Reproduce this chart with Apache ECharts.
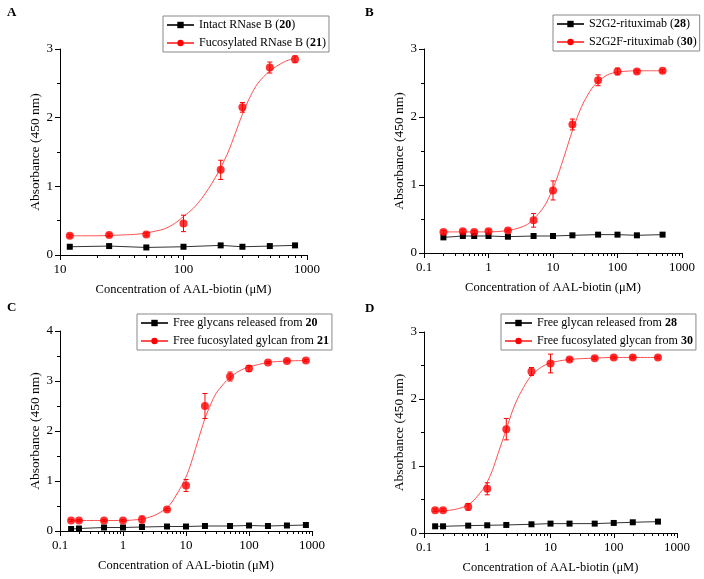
<!DOCTYPE html>
<html>
<head>
<meta charset="utf-8">
<script src="https://cdn.jsdelivr.net/npm/echarts@6/dist/echarts.min.js"></script>
<style>
html,body{margin:0;padding:0;background:#fff;}
#chart{width:704px;height:579px;}
</style>
</head>
<body>
<div id="chart"></div>
<script>
// ---------- Panel A ----------
const xA = [12, 25, 50, 100, 200, 300, 500, 800];
const blackA = [0.12, 0.13, 0.11, 0.12, 0.14, 0.12, 0.13, 0.14];
const redA = [0.28, 0.29, 0.30, 0.46, 1.24, 2.15, 2.73, 2.85];
const errA = [0.02, 0.02, 0.02, 0.12, 0.14, 0.07, 0.08, 0.05];
const fitXA = [12, 20, 30, 40, 50, 60, 70, 85, 100, 120, 140, 160, 180, 200, 230, 260, 300, 350, 400, 500, 650, 800];
const fitYA = [0.28, 0.28, 0.29, 0.30, 0.32, 0.35, 0.38, 0.46, 0.56, 0.68, 0.82, 0.97, 1.12, 1.27, 1.5, 1.75, 2.05, 2.32, 2.5, 2.68, 2.81, 2.87];
const namesA = ['Intact RNase B (20)', 'Fucosylated RNase B (21)'];

// ---------- Panel B ----------
const xB = [0.2, 0.4, 0.6, 1, 2, 5, 10, 20, 50, 100, 200, 500];
const blackB = [0.23, 0.25, 0.25, 0.25, 0.24, 0.25, 0.25, 0.26, 0.27, 0.27, 0.26, 0.27];
const redB = [0.31, 0.32, 0.31, 0.32, 0.33, 0.48, 0.92, 1.89, 2.54, 2.67, 2.67, 2.68];
const errB = [0.02, 0.02, 0.02, 0.02, 0.02, 0.1, 0.14, 0.08, 0.08, 0.05, 0.02, 0.02];
const fitXB = [0.2, 0.5, 1, 2, 3, 4, 5, 6, 7, 8, 10, 12, 15, 20, 25, 30, 40, 50, 70, 100, 200, 500];
const fitYB = [0.31, 0.31, 0.31, 0.33, 0.37, 0.42, 0.5, 0.58, 0.66, 0.75, 0.95, 1.15, 1.43, 1.8, 2.05, 2.22, 2.42, 2.52, 2.62, 2.66, 2.68, 2.68];
const namesB = ['S2G2-rituximab (28)', 'S2G2F-rituximab (30)'];

// ---------- Panel C ----------
const xC = [0.15, 0.2, 0.5, 1, 2, 5, 10, 20, 50, 100, 200, 400, 800];
const blackC = [0.04, 0.05, 0.07, 0.07, 0.08, 0.09, 0.09, 0.1, 0.1, 0.11, 0.1, 0.11, 0.12];
const redC = [0.21, 0.21, 0.21, 0.21, 0.23, 0.43, 0.91, 2.5, 3.09, 3.25, 3.37, 3.4, 3.41];
const errC = [0.02, 0.02, 0.02, 0.02, 0.07, 0.02, 0.12, 0.25, 0.09, 0.06, 0.02, 0.02, 0.02];
const fitXC = [0.15, 0.5, 1, 2, 3, 4, 5, 6, 7, 8, 10, 12, 15, 20, 25, 30, 40, 50, 70, 100, 200, 400, 800];
const fitYC = [0.21, 0.21, 0.21, 0.24, 0.3, 0.38, 0.47, 0.58, 0.72, 0.84, 1.08, 1.35, 1.75, 2.25, 2.55, 2.75, 2.95, 3.07, 3.2, 3.28, 3.37, 3.4, 3.41];
const namesC = ['Free glycans released from 20', 'Free fucosylated gylcan from 21'];

// ---------- Panel D ----------
const xD = [0.15, 0.2, 0.5, 1, 2, 5, 10, 20, 50, 100, 200, 500];
const blackD = [0.1, 0.1, 0.11, 0.115, 0.12, 0.13, 0.14, 0.14, 0.14, 0.15, 0.16, 0.17];
const redD = [0.34, 0.34, 0.39, 0.66, 1.55, 2.41, 2.53, 2.59, 2.61, 2.62, 2.62, 2.62];
const errD = [0.02, 0.02, 0.05, 0.09, 0.16, 0.06, 0.14, 0.02, 0.02, 0.02, 0.02, 0.02];
const fitXD = [0.15, 0.2, 0.3, 0.4, 0.5, 0.6, 0.7, 0.85, 1, 1.2, 1.5, 2, 2.5, 3, 4, 5, 7, 10, 20, 50, 100, 500];
const fitYD = [0.33, 0.33, 0.35, 0.38, 0.42, 0.48, 0.55, 0.65, 0.76, 0.93, 1.2, 1.55, 1.82, 2.0, 2.22, 2.35, 2.47, 2.54, 2.59, 2.61, 2.62, 2.62];
const namesD = ['Free glycan released from 28', 'Free fucosylated glycan from 30'];

const panelLetters = ['A', 'B', 'C', 'D'];
const xMins = [10, 0.1, 0.1, 0.1];
const xMaxs = [1000, 1000, 1000, 1000];
const yMaxs = [3, 3, 4, 3];
const xTitle = 'Concentration of AAL-biotin (\u03bcM)';
const yTitle = 'Absorbance (450 nm)';

const FONT = "'Liberation Serif', 'Times New Roman', serif";

const panels = [
  {x: xA, k: blackA, r: redA, e: errA, fx: fitXA, fy: fitYA, names: namesA},
  {x: xB, k: blackB, r: redB, e: errB, fx: fitXB, fy: fitYB, names: namesB},
  {x: xC, k: blackC, r: redC, e: errC, fx: fitXC, fy: fitYC, names: namesC},
  {x: xD, k: blackD, r: redD, e: errD, fx: fitXD, fy: fitYD, names: namesD}
];

// layout (pixels)
const gridLayout = [
  {left: 60, top: 49, width: 247, height: 206},
  {left: 424, top: 49, width: 258, height: 204},
  {left: 60, top: 331, width: 252, height: 200},
  {left: 424, top: 332, width: 253, height: 201}
];
const legendLayout = [
  {left: 163, top: 16},
  {left: 553, top: 15},
  {left: 137, top: 314},
  {left: 501, top: 314}
];
const letterLayout = [
  {left: 7, top: 6},
  {left: 365, top: 6},
  {left: 7, top: 301},
  {left: 365, top: 302}
];

const grids = [], xAxes = [], yAxes = [], series = [], legends = [], titles = [];

function zip(a, b) { return a.map((v, i) => [v, b[i]]); }

panels.forEach((p, i) => {
  grids.push(Object.assign({containLabel: false}, gridLayout[i]));
  xAxes.push({
    type: 'log', logBase: 10, gridIndex: i, min: xMins[i], max: xMaxs[i],
    name: xTitle, nameLocation: 'middle', nameGap: 28,
    nameTextStyle: {fontFamily: FONT, fontSize: 12.5, color: '#000'},
    axisLine: {show: true, lineStyle: {color: '#000', width: 1}},
    axisTick: {show: true, inside: false, length: 5, lineStyle: {color: '#000'}},
    minorTick: {show: true, splitNumber: 9, length: 3, lineStyle: {color: '#000'}},
    splitLine: {show: false}, minorSplitLine: {show: false},
    axisLabel: {fontFamily: FONT, fontSize: 13, color: '#000', margin: 8,
      formatter: v => String(v)}
  });
  yAxes.push({
    type: 'value', gridIndex: i, min: 0, max: yMaxs[i], interval: 1,
    name: yTitle, nameLocation: 'middle', nameGap: 17,
    nameTextStyle: {fontFamily: FONT, fontSize: 13.5, color: '#000'},
    axisLine: {show: true, lineStyle: {color: '#000', width: 1}},
    axisTick: {show: true, inside: false, length: 5, lineStyle: {color: '#000'}},
    minorTick: {show: true, splitNumber: 2, length: 3, lineStyle: {color: '#000'}},
    splitLine: {show: false},
    axisLabel: {fontFamily: FONT, fontSize: 13, color: '#000', margin: 7}
  });
  // black series (connected)
  series.push({
    type: 'line', name: p.names[0], xAxisIndex: i, yAxisIndex: i,
    data: zip(p.x, p.k), symbol: 'rect', symbolSize: 6, showSymbol: true,
    itemStyle: {color: '#000'}, lineStyle: {color: '#333', width: 1},
    z: 3, animation: false
  });
  // red fitted curve
  series.push({
    type: 'line', name: p.names[1], xAxisIndex: i, yAxisIndex: i,
    data: zip(p.fx, p.fy), smooth: 0.3,
    symbol: 'circle', symbolSize: 7, showSymbol: false,
    itemStyle: {color: '#ff0000'}, lineStyle: {color: '#ff5050', width: 1},
    z: 2, animation: false, silent: true
  });
  // red error bars
  series.push({
    type: 'custom', name: 'err' + i, xAxisIndex: i, yAxisIndex: i,
    data: p.x.map((v, j) => [v, p.r[j], p.e[j]]),
    z: 3, animation: false, silent: true,
    renderItem: function (params, api) {
      const xv = api.value(0), yv = api.value(1), ev = api.value(2);
      const top = api.coord([xv, yv + ev]);
      const bot = api.coord([xv, yv - ev]);
      const st = {stroke: '#ff0000', lineWidth: 1};
      const cw = 2.5;
      return {type: 'group', children: [
        {type: 'line', shape: {x1: top[0], y1: top[1], x2: bot[0], y2: bot[1]}, style: st},
        {type: 'line', shape: {x1: top[0] - cw, y1: top[1], x2: top[0] + cw, y2: top[1]}, style: st},
        {type: 'line', shape: {x1: bot[0] - cw, y1: bot[1], x2: bot[0] + cw, y2: bot[1]}, style: st}
      ]};
    }
  });
  // red points
  series.push({
    type: 'scatter', name: p.names[1], xAxisIndex: i, yAxisIndex: i,
    data: zip(p.x, p.r), symbol: 'circle', symbolSize: 8,
    itemStyle: {color: '#ff0000'}, z: 4, animation: false
  });
  legends.push(Object.assign({
    orient: 'vertical', data: p.names,
    borderColor: '#888', borderWidth: 1, padding: [2, 3, 2, 3],
    itemGap: 4, itemWidth: 27, itemHeight: 8,
    selectedMode: false,
    textStyle: {fontFamily: FONT, fontSize: 12, lineHeight: 14, color: '#000',
      rich: {b: {fontFamily: FONT, fontSize: 12, lineHeight: 14, fontWeight: 'bold', color: '#000'}}},
    formatter: name => name.replace(/\b(\d{2})\b/, '{b|$1}')
  }, legendLayout[i]));
  titles.push(Object.assign({
    text: panelLetters[i], padding: 0,
    textStyle: {fontFamily: FONT, fontSize: 13, fontWeight: 'bold', color: '#000'}
  }, letterLayout[i]));
});

const chart = echarts.init(document.getElementById('chart'), null, {renderer: 'canvas'});
chart.setOption({
  animation: false,
  backgroundColor: '#fff',
  title: titles,
  legend: legends,
  grid: grids,
  xAxis: xAxes,
  yAxis: yAxes,
  series: series
});
</script>
</body>
</html>
